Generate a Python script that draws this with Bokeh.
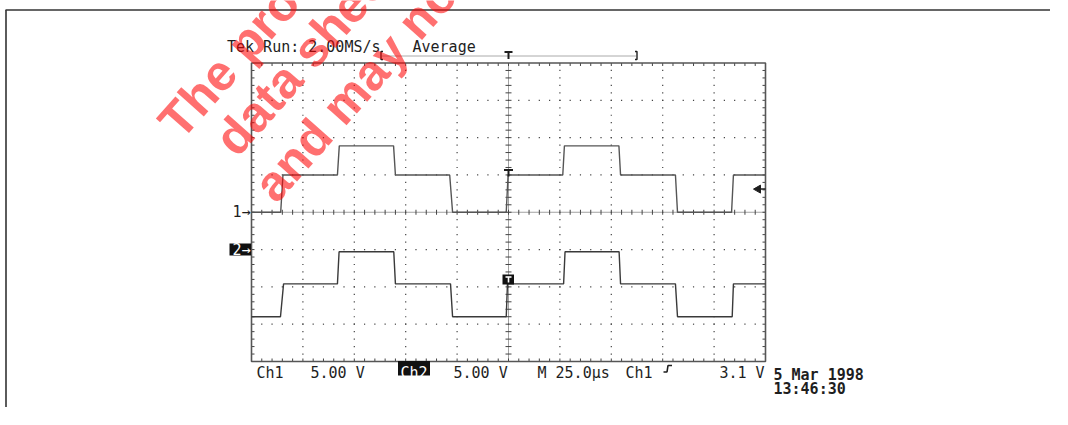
import numpy as np
from bokeh.plotting import figure
from bokeh.models import Range1d
from bokeh.core.properties import value
from bokeh.embed import file_html
from bokeh.resources import INLINE

# ---------------- data ----------------
ch1_time_us = [0.0, 14.2, 15.3, 41.8, 42.7, 69.1, 70.0, 96.4, 97.8, 123.9, 124.8,
               151.4, 152.2, 178.7, 179.5, 206.2, 207.2, 233.5, 234.4, 250.0]
ch1_volts = [0.0, 0.0, 5.0, 5.0, 8.9, 8.9, 5.0, 5.0, 0.0, 0.0, 5.0,
             5.0, 8.9, 8.9, 5.0, 5.0, 0.0, 0.0, 5.0, 5.0]
ch2_time_us = [0.0, 14.1, 15.6, 41.8, 42.6, 69.2, 70.0, 96.8, 97.8, 123.9, 124.5,
               151.8, 152.5, 178.8, 179.5, 206.2, 207.2, 233.8, 234.4, 250.0]
ch2_volts = [-9.0, -9.0, -4.6, -4.6, -0.3, -0.3, -4.6, -4.6, -9.0, -9.0, -4.6,
             -4.6, -0.3, -0.3, -4.6, -4.6, -9.0, -9.0, -4.6, -4.6]

volts_per_div = [5.0, 5.0]          # Ch1, Ch2
channel_position_div = [0.0, -1.0]  # ground markers
time_per_div_us = 25.0
n_div_x, n_div_y = 10, 8
trigger_level_v = 3.1

header_texts = ["Tek Run: 2.00MS/s", "Average"]
footer_texts = ["Ch1", "5.00 V", "Ch2", "5.00 V", "M 25.0\u00b5s", "Ch1", "3.1 V"]
date_texts = ["5 Mar 1998", "13:46:30"]
watermark_lines = ["The product", "data sheet", "and may not"]

# ---------------- layout (picture pixels) ----------------
W, H = 1050, 407
PAGE0 = 0
GL, GR, GT, GB = 251.0, 765.0, 62.5, 361.0
t_span = n_div_x * time_per_div_us
px_per_us = (GR - GL) / t_span
px_per_div = (GB - GT) / n_div_y
cy = (GT + GB) / 2


def X(px):
    return (px - GL) / px_per_us


def Y(py):
    return (cy - py) / px_per_div


def dx(px):
    return px / px_per_us


def dy(px):
    return px / px_per_div


p = figure(width=W, height=H, output_backend="svg", toolbar_location=None,
           x_range=Range1d(X(PAGE0), X(PAGE0 + W)),
           y_range=Range1d(Y(PAGE0 + H), Y(PAGE0)),
           x_axis_location=None, y_axis_location=None, min_border=0)
p.min_border_left = p.min_border_right = p.min_border_top = p.min_border_bottom = 0
p.xgrid.visible = False
p.ygrid.visible = False
p.outline_line_color = None
p.background_fill_color = "white"
p.border_fill_color = "white"

GRID_C = "#444444"
half_x = n_div_x / 2
half_y = n_div_y / 2
x_sub = time_per_div_us / 5
y_sub = 0.2

# outer page border (top and left)
p.segment(x0=[X(5)], y0=[Y(9.5)], x1=[X(PAGE0 + W)], y1=[Y(9.5)], line_color="#333333", line_width=1.6)
p.segment(x0=[X(5.5)], y0=[Y(9.5)], x1=[X(5.5)], y1=[Y(PAGE0 + H)], line_color="#333333", line_width=1.6)

# grid dots
xs_sub = np.arange(1, n_div_x * 5) * x_sub
ys_sub = -half_y + np.arange(1, n_div_y * 5) * y_sub
dot_x, dot_y = [], []
for j in range(-int(half_y) + 1, int(half_y)):
    if j == 0:
        continue
    dot_x += list(xs_sub)
    dot_y += [j] * len(xs_sub)
for i in range(1, n_div_x):
    if i == n_div_x // 2:
        continue
    dot_x += [i * time_per_div_us] * len(ys_sub)
    dot_y += list(ys_sub)
p.rect(x=dot_x, y=dot_y, width=1.2, height=1.2, width_units="screen", height_units="screen",
       fill_color=GRID_C, line_color=None)

# center cross lines (dense dotted with ticks)
tc = t_span / 2
p.segment(x0=[0, tc], y0=[0, -half_y], x1=[t_span, tc], y1=[0, half_y],
          line_color=GRID_C, line_width=1, line_dash="1 1")
p.segment(x0=list(xs_sub), y0=[dy(-2.5)] * len(xs_sub), x1=list(xs_sub), y1=[dy(2.5)] * len(xs_sub),
          line_color=GRID_C, line_width=1)
p.segment(x0=[tc - dx(3)] * len(ys_sub), y0=list(ys_sub), x1=[tc + dx(3)] * len(ys_sub), y1=list(ys_sub),
          line_color=GRID_C, line_width=1)

# edge ticks
tk = 3.0
p.segment(x0=[0] * len(ys_sub), y0=list(ys_sub), x1=[dx(tk)] * len(ys_sub), y1=list(ys_sub),
          line_color=GRID_C, line_width=1)
p.segment(x0=[t_span] * len(ys_sub), y0=list(ys_sub), x1=[t_span - dx(tk)] * len(ys_sub), y1=list(ys_sub),
          line_color=GRID_C, line_width=1)
p.segment(x0=list(xs_sub), y0=[half_y] * len(xs_sub), x1=list(xs_sub), y1=[half_y - dy(tk)] * len(xs_sub),
          line_color=GRID_C, line_width=1)
p.segment(x0=list(xs_sub), y0=[-half_y] * len(xs_sub), x1=list(xs_sub), y1=[-half_y + dy(tk)] * len(xs_sub),
          line_color=GRID_C, line_width=1)

# graticule frame
p.quad(left=[0], right=[t_span], bottom=[-half_y], top=[half_y],
       fill_color=None, line_color="#555555", line_width=1.6)

# traces
y1 = np.array(ch1_volts) / volts_per_div[0] + channel_position_div[0]
y2 = np.array(ch2_volts) / volts_per_div[1] + channel_position_div[1]
p.line(ch1_time_us, y1, line_color="#555555", line_width=1.4)
p.line(ch2_time_us, y2, line_color="#3a3a3a", line_width=1.4)

MONO = value("DejaVu Sans Mono")
INK = "#1e1e1e"

# channel ground markers
p.text(x=[X(250)], y=[channel_position_div[0]], text=["1\u2192"], text_font=MONO,
       text_font_size="15px", text_align="right", text_baseline="middle", text_color=INK)
p.quad(left=[X(229)], right=[X(250.5)], bottom=[channel_position_div[1] - dy(6)],
       top=[channel_position_div[1] + dy(6)], fill_color="#111111", line_color=None)
p.text(x=[X(250)], y=[channel_position_div[1]], text=["2\u2192"], text_font=MONO,
       text_font_size="15px", text_align="right", text_baseline="middle", text_color="white")

# trigger level arrow (right edge)
trig_y = trigger_level_v / volts_per_div[0] + channel_position_div[0]
p.patch(x=[t_span - dx(12), t_span - dx(5), t_span - dx(5)],
        y=[trig_y, trig_y + dy(4), trig_y - dy(4)], fill_color=INK, line_color=INK)
p.segment(x0=[t_span - dx(6)], y0=[trig_y], x1=[t_span], y1=[trig_y], line_color=INK, line_width=1.5)

# trigger position markers
p.segment(x0=[tc - dx(4.5), tc], y0=[Y(169.5), Y(169.5)], x1=[tc + dx(4.5), tc], y1=[Y(169.5), Y(176)],
          line_color=INK, line_width=2)
p.quad(left=[tc - dx(6)], right=[tc + dx(5.5)], top=[Y(274)], bottom=[Y(284)],
       fill_color="#111111", line_color=None)
p.segment(x0=[tc - dx(3), tc], y0=[Y(276.5), Y(276.5)], x1=[tc + dx(3), tc], y1=[Y(276.5), Y(282)],
          line_color="white", line_width=1.6)

# record bracket at top
p.segment(x0=[X(382)], y0=[Y(55.5)], x1=[X(636)], y1=[Y(55.5)], line_color="#555555",
          line_width=1, line_dash="1 1")
p.line(x=[X(382.5), X(380.5), X(380.5), X(382.5)], y=[Y(51), Y(51), Y(59), Y(59)],
       line_color=INK, line_width=1.4)
p.line(x=[X(634.5), X(636.5), X(636.5), X(634.5)], y=[Y(51), Y(51), Y(59), Y(59)],
       line_color=INK, line_width=1.4)
p.segment(x0=[tc - dx(4), tc], y0=[Y(51.5), Y(51.5)], x1=[tc + dx(4), tc], y1=[Y(51.5), Y(58.5)],
          line_color=INK, line_width=2)

# header
p.text(x=[X(226.5), X(412)], y=[Y(46.5)] * 2, text=header_texts, text_font=MONO,
       text_font_size="15px", text_align="left", text_baseline="alphabetic", text_color=INK)

# footer
p.quad(left=[X(397.5)], right=[X(429.5)], top=[Y(360.5)], bottom=[Y(375)],
       fill_color="#111111", line_color=None)
fx = [X(256), X(310), X(400), X(453), X(537), X(625), X(719)]
fcol = [INK, INK, "white", INK, INK, INK, INK]
p.text(x=fx, y=[Y(372)] * len(fx), text=footer_texts, text_font=MONO, text_color=fcol,
       text_font_size="15px", text_align="left", text_baseline="alphabetic")
p.line(x=[X(663), X(666.5), X(667.5), X(671.5)], y=[Y(371.5), Y(371.5), Y(365), Y(365)],
       line_color=INK, line_width=1.6)
p.text(x=[X(773), X(773)], y=[Y(374), Y(388.5)], text=date_texts, text_font=MONO,
       text_font_size="15px", text_font_style="bold", text_align="left",
       text_baseline="alphabetic", text_color=INK)

# watermark
ang = np.deg2rad(48.5)
p.text(x=[X(168), X(224), X(263)], y=[Y(130), Y(147), Y(193)], text=watermark_lines,
       angle=ang, text_font=value("Liberation Sans"), text_font_style="bold",
       text_font_size="50px", text_align="left", text_baseline="middle",
       text_color="#ff0000", text_alpha=0.56)

open("out.html", "w").write(file_html(p, INLINE))
